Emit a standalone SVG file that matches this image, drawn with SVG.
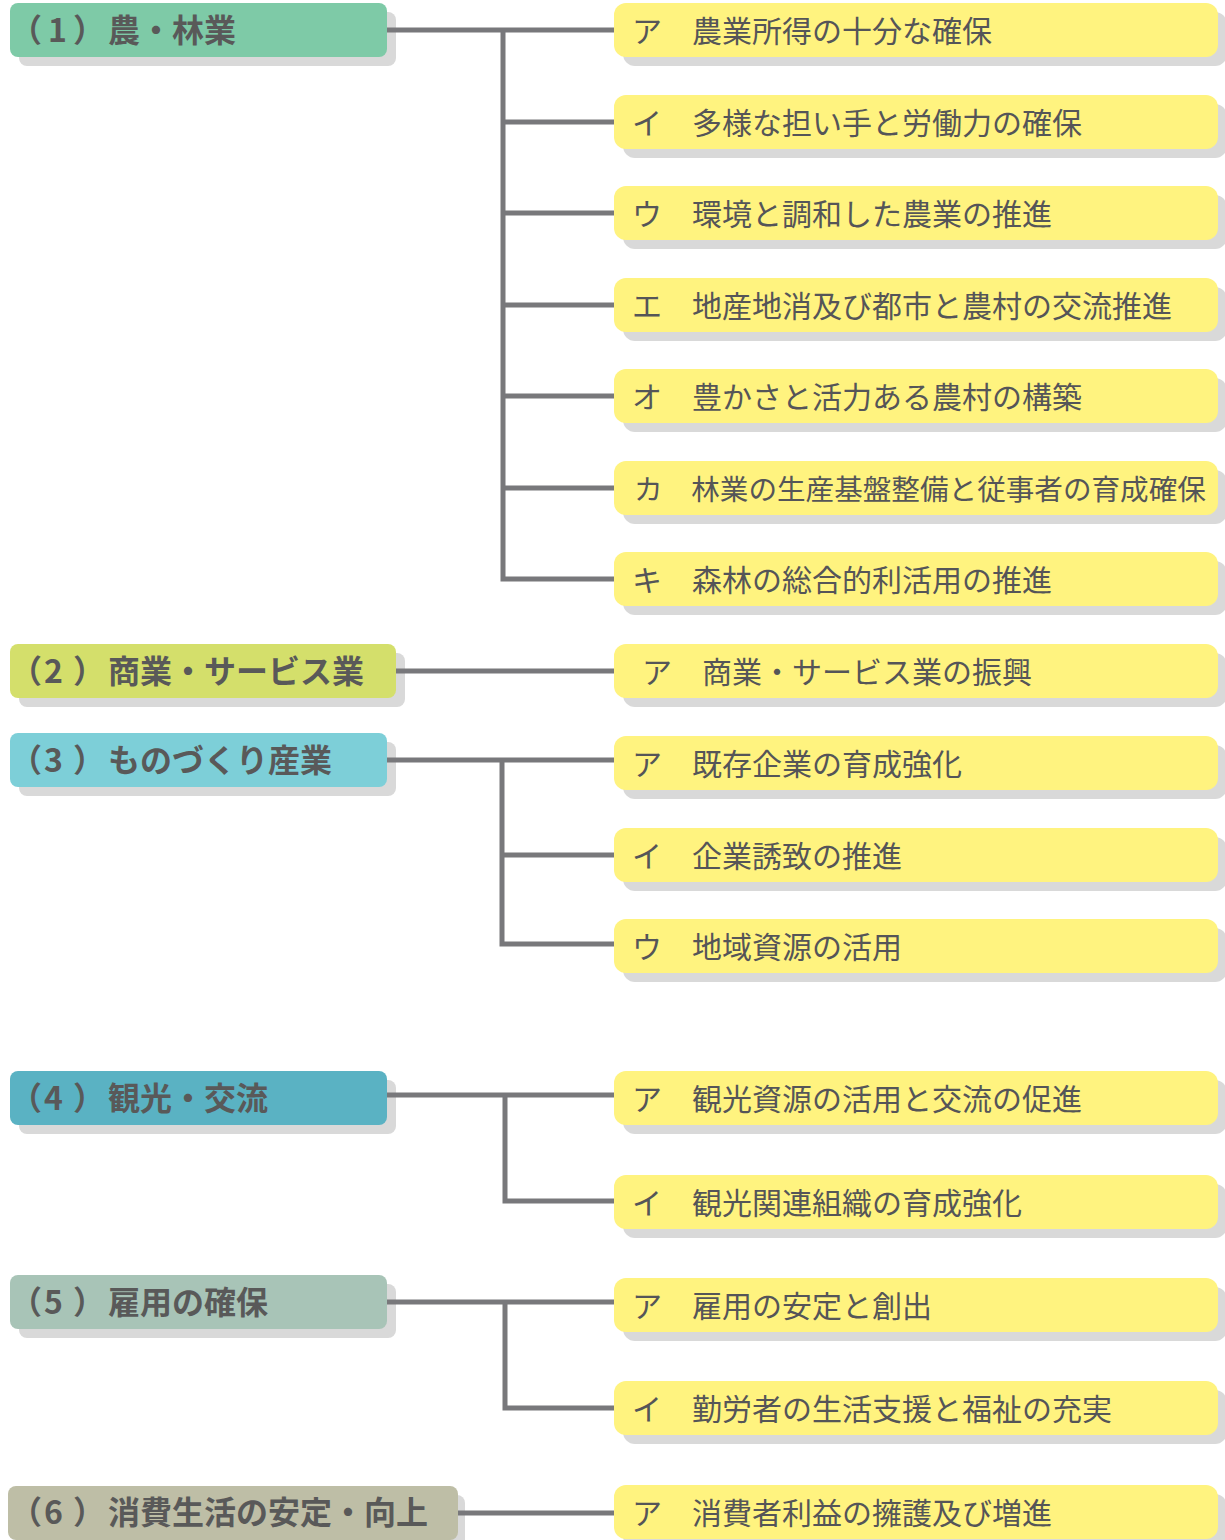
<svg xmlns="http://www.w3.org/2000/svg" width="1225" height="1540" viewBox="0 0 1225 1540">
<style>
.sh{fill:#d9d9d9}
.rb{fill:#fff37f}
.lt{font-family:"Noto Sans CJK JP","Noto Sans",sans-serif;font-weight:bold;font-size:32px;fill:#595959}
.rt{font-family:"Noto Sans CJK JP","Noto Sans",sans-serif;font-size:30px;fill:#555558}
.cn{fill:none;stroke:#78787b;stroke-width:5;stroke-linejoin:miter;stroke-linecap:butt}
</style>
<rect width="1225" height="1540" fill="#ffffff"/>
<!-- left nodes -->
<g id="n1">
<rect class="sh" x="19" y="12" width="377" height="54" rx="8"/>
<rect x="10" y="3" width="377" height="54" rx="8" fill="#7ecaa7"/>
<text class="lt" y="42"><tspan x="10">（</tspan><tspan x="48">1</tspan><tspan x="73">）</tspan><tspan x="108">農・林業</tspan></text>
</g>
<g id="n2">
<rect class="sh" x="19" y="653" width="386" height="54" rx="8"/>
<rect x="10" y="644" width="386" height="54" rx="8" fill="#d4df6b"/>
<text class="lt" y="683"><tspan x="10">（</tspan><tspan x="44">2</tspan><tspan x="73">）</tspan><tspan x="108">商業・サービス業</tspan></text>
</g>
<g id="n3">
<rect class="sh" x="19" y="742" width="377" height="54" rx="8"/>
<rect x="10" y="733" width="377" height="54" rx="8" fill="#7dcfd8"/>
<text class="lt" y="772"><tspan x="10">（</tspan><tspan x="44">3</tspan><tspan x="73">）</tspan><tspan x="108">ものづくり産業</tspan></text>
</g>
<g id="n4">
<rect class="sh" x="19" y="1080" width="377" height="54" rx="8"/>
<rect x="10" y="1071" width="377" height="54" rx="8" fill="#5ab2c3"/>
<text class="lt" y="1110"><tspan x="10">（</tspan><tspan x="44">4</tspan><tspan x="73">）</tspan><tspan x="108">観光・交流</tspan></text>
</g>
<g id="n5">
<rect class="sh" x="19" y="1284" width="377" height="54" rx="8"/>
<rect x="10" y="1275" width="377" height="54" rx="8" fill="#a8c4b7"/>
<text class="lt" y="1314"><tspan x="10">（</tspan><tspan x="44">5</tspan><tspan x="73">）</tspan><tspan x="108">雇用の確保</tspan></text>
</g>
<g id="n6">
<rect class="sh" x="17" y="1495" width="448" height="54" rx="8"/>
<rect x="8" y="1486" width="450" height="54" rx="8" fill="#bebea6"/>
<text class="lt" y="1524"><tspan x="10">（</tspan><tspan x="44">6</tspan><tspan x="73">）</tspan><tspan x="108">消費生活の安定・向上</tspan></text>
</g>
<!-- right nodes -->
<g id="r1a"><rect class="sh" x="623" y="12" width="604" height="54" rx="12"/><rect class="rb" x="614" y="3" width="604" height="54" rx="12"/><text class="rt" x="632" y="42">ア　農業所得の十分な確保</text></g>
<g id="r1b"><rect class="sh" x="623" y="104" width="604" height="54" rx="12"/><rect class="rb" x="614" y="95" width="604" height="54" rx="12"/><text class="rt" x="632" y="134">イ　多様な担い手と労働力の確保</text></g>
<g id="r1c"><rect class="sh" x="623" y="195" width="604" height="54" rx="12"/><rect class="rb" x="614" y="186" width="604" height="54" rx="12"/><text class="rt" x="632" y="225">ウ　環境と調和した農業の推進</text></g>
<g id="r1d"><rect class="sh" x="623" y="287" width="604" height="54" rx="12"/><rect class="rb" x="614" y="278" width="604" height="54" rx="12"/><text class="rt" x="632" y="317">エ　地産地消及び都市と農村の交流推進</text></g>
<g id="r1e"><rect class="sh" x="623" y="378" width="604" height="54" rx="12"/><rect class="rb" x="614" y="369" width="604" height="54" rx="12"/><text class="rt" x="632" y="408">オ　豊かさと活力ある農村の構築</text></g>
<g id="r1f"><rect class="sh" x="623" y="470" width="604" height="54" rx="12"/><rect class="rb" x="614" y="461" width="604" height="54" rx="12"/><text class="rt" x="634" y="500" style="font-size:28.6px">カ　林業の生産基盤整備と従事者の育成確保</text></g>
<g id="r1g"><rect class="sh" x="623" y="561" width="604" height="54" rx="12"/><rect class="rb" x="614" y="552" width="604" height="54" rx="12"/><text class="rt" x="632" y="591">キ　森林の総合的利活用の推進</text></g>
<g id="r2a"><rect class="sh" x="623" y="653" width="604" height="54" rx="12"/><rect class="rb" x="614" y="644" width="604" height="54" rx="12"/><text class="rt" x="642" y="683">ア　商業・サービス業の振興</text></g>
<g id="r3a"><rect class="sh" x="623" y="745" width="604" height="54" rx="12"/><rect class="rb" x="614" y="736" width="604" height="54" rx="12"/><text class="rt" x="632" y="775">ア　既存企業の育成強化</text></g>
<g id="r3b"><rect class="sh" x="623" y="837" width="604" height="54" rx="12"/><rect class="rb" x="614" y="828" width="604" height="54" rx="12"/><text class="rt" x="632" y="867">イ　企業誘致の推進</text></g>
<g id="r3c"><rect class="sh" x="623" y="928" width="604" height="54" rx="12"/><rect class="rb" x="614" y="919" width="604" height="54" rx="12"/><text class="rt" x="632" y="958">ウ　地域資源の活用</text></g>
<g id="r4a"><rect class="sh" x="623" y="1080" width="604" height="54" rx="12"/><rect class="rb" x="614" y="1071" width="604" height="54" rx="12"/><text class="rt" x="632" y="1110">ア　観光資源の活用と交流の促進</text></g>
<g id="r4b"><rect class="sh" x="623" y="1184" width="604" height="54" rx="12"/><rect class="rb" x="614" y="1175" width="604" height="54" rx="12"/><text class="rt" x="632" y="1214">イ　観光関連組織の育成強化</text></g>
<g id="r5a"><rect class="sh" x="623" y="1287" width="604" height="54" rx="12"/><rect class="rb" x="614" y="1278" width="604" height="54" rx="12"/><text class="rt" x="632" y="1317">ア　雇用の安定と創出</text></g>
<g id="r5b"><rect class="sh" x="623" y="1390" width="604" height="54" rx="12"/><rect class="rb" x="614" y="1381" width="604" height="54" rx="12"/><text class="rt" x="632" y="1420">イ　勤労者の生活支援と福祉の充実</text></g>
<g id="r6a"><rect class="sh" x="623" y="1494" width="604" height="54" rx="12"/><rect class="rb" x="614" y="1485" width="604" height="54" rx="12"/><text class="rt" x="632" y="1524">ア　消費者利益の擁護及び増進</text></g>
<!-- connectors -->
<g id="connectors">
<path class="cn" d="M387 30H614M503 30V579H614M503 122H614M503 213H614M503 305H614M503 396H614M503 488H614"/>
<path class="cn" d="M396 671H614"/>
<path class="cn" d="M387 760H614M502 760V944H614M502 855H614"/>
<path class="cn" d="M387 1095H614M505 1095V1201H614"/>
<path class="cn" d="M387 1302H614M505 1302V1408H614"/>
<path class="cn" d="M458 1513H614"/>
</g>
</svg>
